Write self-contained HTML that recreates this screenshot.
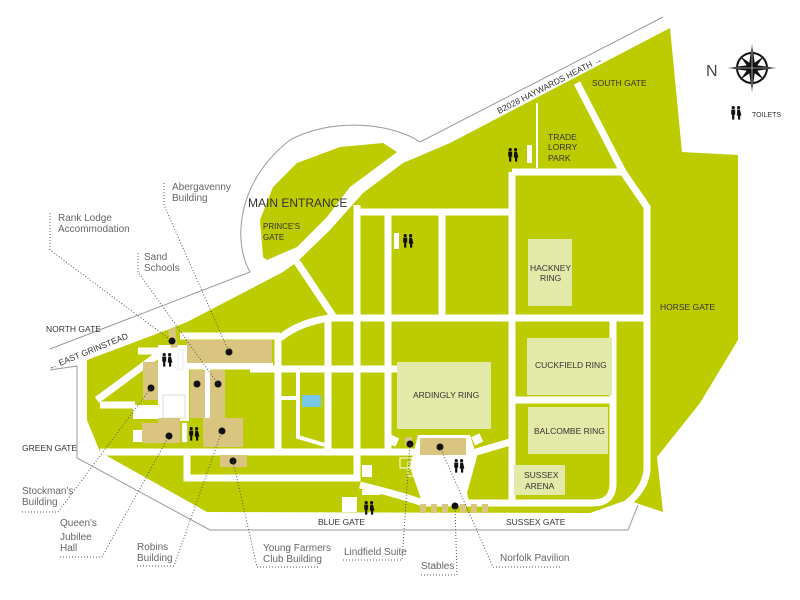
<!DOCTYPE html>
<html><head><meta charset="utf-8"><style>
html,body{margin:0;padding:0;background:#fff;}
svg{display:block;}
.lb{font-family:"Liberation Sans",sans-serif;font-size:8.5px;fill:#333;}
.ld{font-family:"Liberation Sans",sans-serif;font-size:10px;fill:#666;}
.rd{stroke:#fff;fill:none;stroke-width:7;}
.rt{stroke:#fff;fill:none;stroke-width:4;}
.dl{stroke:#555;fill:none;stroke-width:1;stroke-dasharray:1 2;}
</style></head><body>
<svg width="800" height="600" viewBox="0 0 800 600" xmlns="http://www.w3.org/2000/svg">
<defs>
<g id="wc">
<circle cx="2.2" cy="1.6" r="1.6" fill="#111"/>
<path d="M0.2,3.6h4v5h-0.9v5h-2.2v-5h-0.9z" fill="#111"/>
<circle cx="7.6" cy="1.6" r="1.6" fill="#111"/>
<path d="M6.2,3.6h2.8l1.4,6h-1.2v4h-2.2v-4h-1.2z" fill="#111"/>
</g>
</defs>
<!-- gray outlines -->
<path d="M50,349 L250,272 C232,240 238,180 290,140 C330,118 390,122 420,142 L663,17" stroke="#999" fill="none" stroke-width="1"/>
<path d="M50,370 L77,366 L77,458 L210,530 L628,530 L638,505" stroke="#999" fill="none" stroke-width="1"/>
<!-- main green body -->
<path d="M87,360 L172,328 L187,322 L283,272 L297,262 L330,230 L363,193 L403,163 L450,143 L670,28 L682,152 L738,155 L738,340 L700,403 L657,457 L663,512 L627,500 L590,513 L207,512 L100,452 L87,420 Z" fill="#bdcc00"/>
<!-- island -->
<path d="M263,257 L260,220 L273,187 L297,163 L340,147 L383,143 L397,152 L377,167 L350,187 L327,217 L297,247 L267,260 Z" fill="#bdcc00"/>
<!-- roads -->
<path class="rd" d="M297,262 L333,316 M280,338 Q300,322 330,318 L648,318"/>
<path class="rd" d="M357,452 L357,205 M357,212 L512,212 M388,212 L388,452 M442,212 L442,318"/>
<path class="rd" d="M512,172 L512,500 M512,172 L623,172 M577,83 L623,172 L647,207 L647,470 Q645,490 625,505"/>
<path class="rd" d="M613,318 L613,485 Q612,503 593,503 L423,503 Q400,495 360,485"/>
<path class="rd" d="M512,400 L613,400"/>
<path class="rd" d="M328,318 L328,452 M278,336 L278,452 M250,369 L397,369"/>
<path class="rt" d="M298,370 L298,437 L325,445 M280,398 L298,398"/>
<path class="rd" d="M100,452 L420,452 M187,452 L187,478 L357,478 L357,452"/>
<path class="rd" d="M180,336 L280,336 M187,366 L273,366 M207,366 L207,420"/>
<path class="rd" d="M97,400 L162,352 M100,405 L135,405 M138,351 L162,351"/>
<path d="M537,103 L537,168" stroke="#fff" stroke-width="2"/>
<!-- white courtyards -->
<rect x="158" y="345" width="31" height="76" fill="#fff"/>
<rect x="133" y="405" width="30" height="14" fill="#fff"/>
<rect x="133" y="430" width="10" height="12" fill="#fff"/>
<path d="M418,435 L470,435 L477,457 L467,493 L470,505 L423,505 L410,467 Z" fill="#fff"/>
<path class="rd" d="M473,453 L510,442"/>
<rect x="389" y="436" width="9" height="9" fill="#fff" transform="rotate(25 393 440)"/>
<rect x="473" y="435" width="9" height="9" fill="#fff" transform="rotate(-25 477 440)"/>
<rect x="400" y="458" width="12" height="10" fill="none" stroke="#fff"/>
<rect x="408" y="462" width="14" height="14" fill="none" stroke="#fff"/>
<rect x="362" y="465" width="10" height="12" fill="#fff"/>
<rect x="362" y="490" width="18" height="5" fill="#fff"/>
<rect x="342" y="497" width="15" height="15" fill="#fff"/>
<rect x="163" y="395" width="22" height="23" fill="none" stroke="#ddd" stroke-width="1"/>
<!-- buildings -->
<g fill="#d9c480">
<rect x="187" y="340" width="85" height="23"/>
<path d="M168,330 L175,327 L178,347 L171,348 Z"/>
<rect x="143" y="362" width="15" height="38"/>
<rect x="190" y="370" width="15" height="48"/>
<rect x="210" y="370" width="15" height="48"/>
<path d="M142,423 L158,423 L158,418 L180,418 L180,443 L142,443 Z"/>
<rect x="203" y="418" width="40" height="29"/>
<rect x="220" y="455" width="27" height="12"/>
<rect x="420" y="438" width="46" height="17"/>
<rect x="405" y="437" width="7" height="8"/>
<rect x="420" y="504" width="6" height="9"/><rect x="431" y="504" width="6" height="9"/><rect x="442" y="504" width="6" height="9"/><rect x="460" y="504" width="6" height="9"/><rect x="471" y="504" width="6" height="9"/><rect x="482" y="504" width="6" height="9"/>
</g>
<rect x="178" y="350" width="5" height="20" fill="#fff" stroke="#ddd" stroke-width="0.5"/>
<rect x="182" y="423" width="5" height="19" fill="#fff" stroke="#ddd" stroke-width="0.5"/>
<rect x="527" y="145" width="5" height="18" fill="#fff"/>
<rect x="394" y="233" width="5" height="16" fill="#fff"/>
<rect x="302" y="395" width="19" height="12" fill="#79c9e6"/>
<!-- rings -->
<g fill="#e3e9a8">
<rect x="397" y="362" width="94" height="67"/>
<rect x="527" y="338" width="85" height="57"/>
<rect x="528" y="407" width="80" height="47"/>
<rect x="514" y="465" width="51" height="30"/>
<rect x="528" y="239" width="44" height="67"/>
</g>
<!-- dots -->
<g fill="#111">
<circle cx="229" cy="352" r="3.5"/><circle cx="172" cy="341" r="3.5"/><circle cx="151" cy="388" r="3.5"/>
<circle cx="197" cy="384" r="3.5"/><circle cx="218" cy="384" r="3.5"/><circle cx="169" cy="436" r="3.5"/>
<circle cx="222" cy="431" r="3.5"/><circle cx="233" cy="461" r="3.5"/><circle cx="440" cy="447" r="3.5"/>
<circle cx="410" cy="444" r="3.5"/><circle cx="455" cy="506" r="3.5"/>
</g>
<!-- toilets -->
<use href="#wc" x="162" y="353"/><use href="#wc" x="189" y="427"/><use href="#wc" x="403" y="234"/>
<use href="#wc" x="508" y="148"/><use href="#wc" x="454" y="459"/><use href="#wc" x="364" y="501"/>
<use href="#wc" x="731" y="106"/>
<!-- leader lines -->
<path class="dl" d="M164,183 L164,205 L229,352"/>
<path class="dl" d="M50,213 L50,250 L172,341"/>
<path class="dl" d="M138,253 L138,272 L218,384"/>
<path class="dl" d="M22,512 L58,512 L151,388"/>
<path class="dl" d="M60,557 L102,557 L169,436"/>
<path class="dl" d="M137,566 L174,566 L222,431"/>
<path class="dl" d="M318,567 L257,567 L233,461"/>
<path class="dl" d="M343,560 L402,560 L410,444"/>
<path class="dl" d="M421,575 L457,575 L455,506"/>
<path class="dl" d="M560,567 L493,567 L440,447"/>
<!-- leader labels -->
<text class="ld" x="172" y="190">Abergavenny</text><text class="ld" x="172" y="201">Building</text>
<text class="ld" x="58" y="221">Rank Lodge</text><text class="ld" x="58" y="232">Accommodation</text>
<text class="ld" x="144" y="260">Sand</text><text class="ld" x="144" y="271">Schools</text>
<text class="ld" x="22" y="494">Stockman's</text><text class="ld" x="22" y="505">Building</text>
<text class="ld" x="60" y="526">Queen's</text><text class="ld" x="60" y="540">Jubilee</text><text class="ld" x="60" y="551">Hall</text>
<text class="ld" x="137" y="550">Robins</text><text class="ld" x="137" y="561">Building</text>
<text class="ld" x="263" y="551">Young Farmers</text><text class="ld" x="263" y="562">Club Building</text>
<text class="ld" x="344" y="555">Lindfield Suite</text>
<text class="ld" x="421" y="569">Stables</text>
<text class="ld" x="500" y="561">Norfolk Pavilion</text>
<!-- labels -->
<text class="lb" x="248" y="207" style="font-size:12px">MAIN ENTRANCE</text>
<text class="lb" x="263" y="229" style="font-size:8px">PRINCE'S</text><text class="lb" x="263" y="240" style="font-size:8px">GATE</text>
<text class="lb" x="46" y="332">NORTH GATE</text>
<text class="lb" x="50" y="370" transform="rotate(-22 50 370)">← EAST GRINSTEAD</text>
<text class="lb" x="22" y="451">GREEN GATE</text>
<text class="lb" x="318" y="525">BLUE GATE</text>
<text class="lb" x="506" y="525">SUSSEX GATE</text>
<text class="lb" x="499" y="114" transform="rotate(-27 499 114)">B2028  HAYWARDS HEATH →</text>
<text class="lb" x="592" y="86">SOUTH GATE</text>
<text class="lb" x="548" y="140">TRADE</text><text class="lb" x="548" y="150">LORRY</text><text class="lb" x="548" y="161">PARK</text>
<text class="lb" x="660" y="310">HORSE GATE</text>
<text class="lb" x="752" y="117" style="font-size:7px">TOILETS</text>
<text class="lb" x="530" y="271">HACKNEY</text><text class="lb" x="540" y="281">RING</text>
<text class="lb" x="413" y="398">ARDINGLY RING</text>
<text class="lb" x="535" y="368">CUCKFIELD RING</text>
<text class="lb" x="534" y="434">BALCOMBE RING</text>
<text class="lb" x="524" y="478">SUSSEX</text><text class="lb" x="525" y="489">ARENA</text>
<!-- compass -->
<text x="706" y="76" style="font-family:'Liberation Sans',sans-serif;font-size:16px;fill:#444;font-weight:300">N</text>
<g transform="translate(752,68)">
<circle r="15" fill="none" stroke="#111" stroke-width="2"/>
<path d="M0,-25 L3,-3 L25,0 L3,3 L0,25 L-3,3 L-25,0 L-3,-3 Z" fill="#111"/>
<path d="M-12,-12 L2,-2 L12,12 L-2,2 Z M12,-12 L2,2 L-12,12 L-2,-2 Z" fill="#111"/>
<path d="M0,-25 L0,25 M-25,0 L25,0" stroke="#fff" stroke-width="0.6"/>
</g>
</svg>
</body></html>
